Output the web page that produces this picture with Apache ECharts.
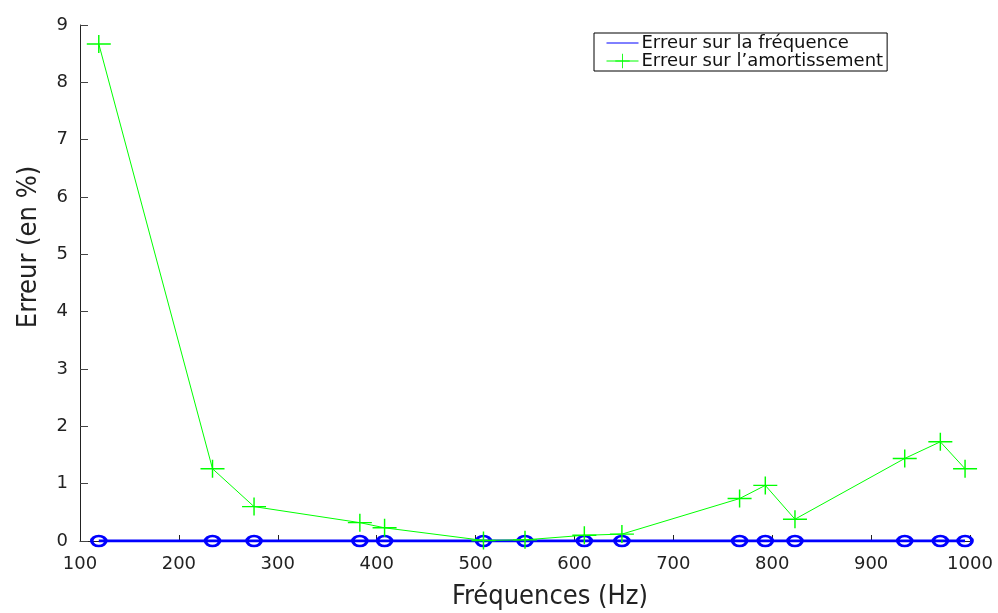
<!DOCTYPE html>
<html><head><meta charset="utf-8">
<script src="https://cdn.jsdelivr.net/npm/echarts@6/dist/echarts.min.js"></script>
<style>html,body{margin:0;padding:0;background:#fff}#c{width:998px;height:613px}</style>
</head><body><div id="c"></div>
<script>
const frequencies = [119, 234, 276, 383, 408, 508, 550, 610, 648, 767, 793, 823, 934, 970, 995];
const freqError = [0, 0, 0, 0, 0, 0, 0, 0, 0, 0, 0, 0, 0, 0, 0];
const dampError = [8.67, 1.26, 0.60, 0.32, 0.23, 0.01, 0.02, 0.10, 0.12, 0.74, 0.97, 0.38, 1.44, 1.73, 1.26];
const seriesNames = ['Erreur sur la fréquence', 'Erreur sur l’amortissement'];
const xTitle = 'Fréquences (Hz)';
const yTitle = 'Erreur (en %)';

const FONT = 'DejaVu Sans';
const FONTC = '"DejaVu Sans Condensed", "DejaVu Sans"';
const chart = echarts.init(document.getElementById('c'), null, {renderer: 'canvas'});
const crossPath = 'path://M0,4.6H10V5.4H0Z M4.7,0H5.3V10H4.7Z';
chart.setOption({
  animation: false,
  backgroundColor: '#fff',
  textStyle: {fontFamily: FONT},
  grid: {left: 80, right: 28, top: 25, bottom: 72, containLabel: false, outerBoundsMode: 'none'},
  legend: {
    orient: 'vertical', left: 594, top: 33,
    backgroundColor: '#fff', borderColor: '#000', borderWidth: 1,
    padding: [1, 4, 1, 12], itemGap: 0, itemWidth: 32, itemHeight: 18,
    textStyle: {fontFamily: FONT, fontSize: 18, lineHeight: 18, color: '#111', padding: [0, 0, 0, -2]},
    data: [
      {name: seriesNames[0], itemStyle: {color: 'rgba(0,0,0,0)', borderWidth: 0, opacity: 0}, lineStyle: {width: 1, color: '#0000ff'}},
      {name: seriesNames[1], lineStyle: {width: 1, color: '#00ff00'}}
    ]
  },
  xAxis: {
    type: 'value', min: 100, max: 1000, interval: 100,
    name: xTitle, nameLocation: 'middle', nameGap: 42,
    nameTextStyle: {fontFamily: FONTC, fontSize: 27, color: '#222', padding: [0, 0, 0, 50]},
    axisLine: {lineStyle: {color: '#222', width: 1}},
    axisTick: {inside: true, length: 6, lineStyle: {color: '#222'}},
    axisLabel: {fontFamily: FONT, fontSize: 18, color: '#222', margin: 14, formatter: v => String(v)},
    splitLine: {show: false}
  },
  yAxis: {
    type: 'value', min: 0, max: 9, interval: 1,
    name: yTitle, nameLocation: 'middle', nameGap: 38,
    nameTextStyle: {fontFamily: FONTC, fontSize: 27, color: '#222', padding: [0, 0, 0, 72]},
    axisLine: {show: true, lineStyle: {color: '#222', width: 1}},
    axisTick: {show: true, inside: true, length: 8, lineStyle: {color: '#444'}},
    axisLabel: {fontFamily: FONT, fontSize: 18, color: '#222', margin: 12},
    splitLine: {show: false}
  },
  series: [
    {
      name: seriesNames[0], type: 'line',
      data: frequencies.map((f, i) => [f, freqError[i]]),
      symbol: 'circle', symbolSize: [14, 10], showAllSymbol: true,
      lineStyle: {color: '#0000ff', width: 3},
      itemStyle: {color: 'rgba(0,0,0,0)', borderColor: '#0000ff', borderWidth: 3},
      z: 2
    },
    {
      name: seriesNames[1], type: 'line',
      data: frequencies.map((f, i) => [f, dampError[i]]),
      symbol: crossPath, symbolSize: [24, 18], symbolKeepAspect: false, showAllSymbol: true,
      lineStyle: {color: '#00ff00', width: 1},
      itemStyle: {color: '#00ff00'},
      z: 3
    }
  ]
});
</script></body></html>
